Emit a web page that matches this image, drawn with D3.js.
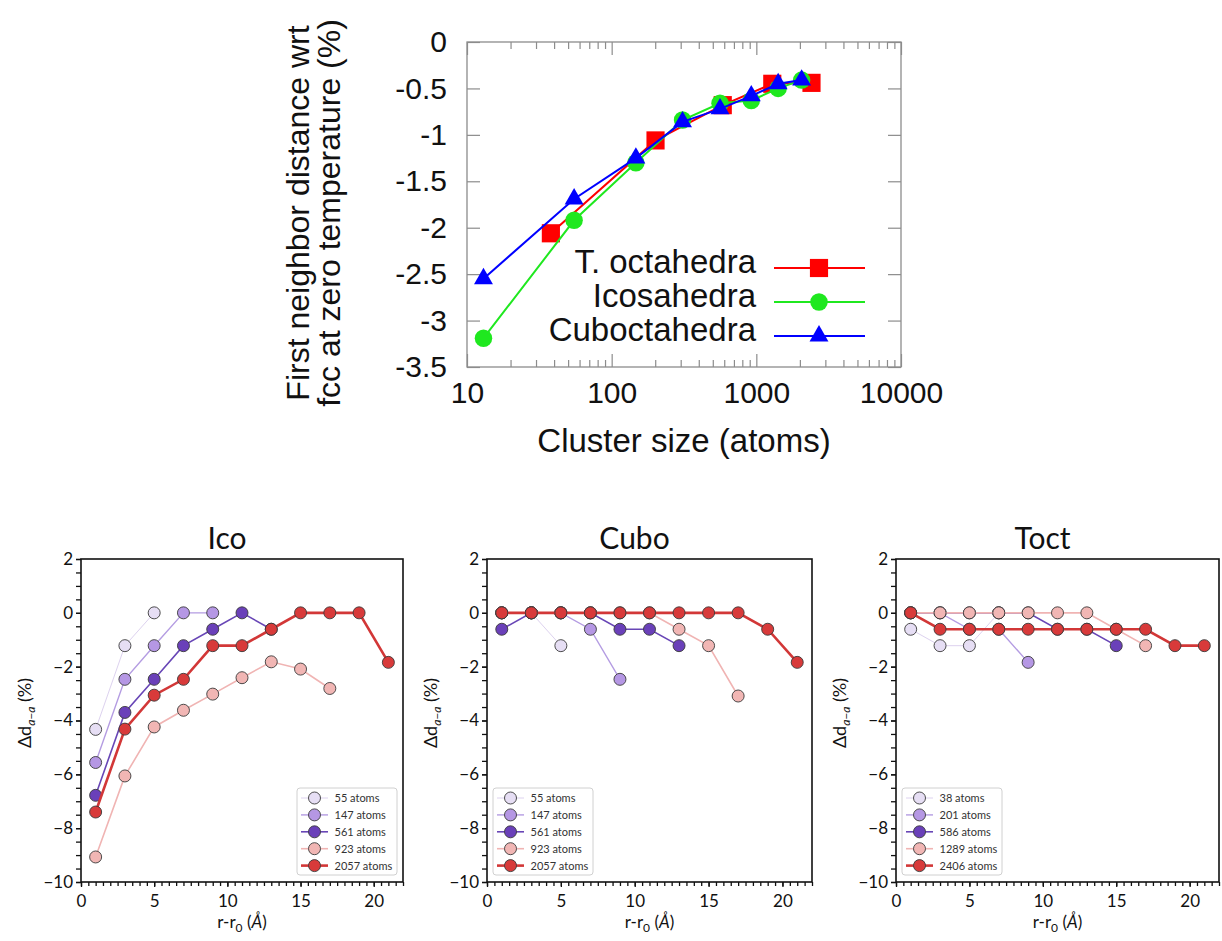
<!DOCTYPE html>
<html>
<head>
<meta charset="utf-8">
<script src="https://cdn.jsdelivr.net/npm/d3@7"></script>
<style>
  body { margin: 0; background: #fff; }
  svg { display: block; }
</style>
</head>
<body>
<svg id="fig" width="1222" height="941"></svg>
<script>
// ---------- top panel: first-neighbour distance vs cluster size ----------
const sizesToct = [38, 201, 586, 1289, 2406];
const distToct  = [-2.06, -1.06, -0.68, -0.45, -0.44];
const sizesIco  = [13, 55, 147, 309, 561, 923, 1415, 2057];
const distIco   = [-3.19, -1.92, -1.30, -0.84, -0.66, -0.63, -0.50, -0.41];
const sizesCubo = [13, 55, 147, 309, 561, 923, 1415, 2057];
const distCubo  = [-2.55, -1.69, -1.25, -0.86, -0.72, -0.58, -0.45, -0.41];
const topNames  = ["T. octahedra", "Icosahedra", "Cuboctahedra"];
const topXTicks = [10, 100, 1000, 10000];
const topYTicks = [0, -0.5, -1, -1.5, -2, -2.5, -3, -3.5];

// ---------- bottom panels: shell-resolved distance change ----------
const shellRadii = [1, 3, 5, 7, 9, 11, 13, 15, 17, 19, 21];
const bottomXTicks = [0, 5, 10, 15, 20];
const bottomYTicks = [-10, -8, -6, -4, -2, 0, 2];

const icoLabels = ["55 atoms", "147 atoms", "561 atoms", "923 atoms", "2057 atoms"];
const ico55   = [-4.33, -1.22, 0];
const ico147  = [-5.56, -2.47, -1.22, 0, 0];
const ico561  = [-6.78, -3.70, -2.47, -1.22, -0.61, 0, -0.61];
const ico923  = [-9.07, -6.06, -4.24, -3.62, -3.02, -2.41, -1.82, -2.09, -2.81];
const ico2057 = [-7.40, -4.32, -3.06, -2.47, -1.22, -1.22, -0.61, 0, 0, 0, -1.84];

const cuboLabels = ["55 atoms", "147 atoms", "561 atoms", "923 atoms", "2057 atoms"];
const cubo55   = [0, 0, -1.22];
const cubo147  = [0, 0, 0, -0.61, -2.47];
const cubo561  = [-0.61, 0, 0, 0, -0.61, -0.61, -1.22];
const cubo923  = [0, 0, 0, 0, 0, 0, -0.61, -1.22, -3.09];
const cubo2057 = [0, 0, 0, 0, 0, 0, 0, 0, 0, -0.61, -1.84];

const toctLabels = ["38 atoms", "201 atoms", "586 atoms", "1289 atoms", "2406 atoms"];
const toct38   = [-0.61, -1.22, -1.22, 0];
const toct201  = [0, 0, -0.61, -0.61, -1.84];
const toct586  = [0, 0, 0, 0, 0, -0.61, -0.61, -1.22];
const toct1289 = [0, 0, 0, 0, 0, 0, 0, -0.61, -1.22];
const toct2406 = [0, -0.61, -0.61, -0.61, -0.61, -0.61, -0.61, -0.61, -0.61, -1.22, -1.22];

// ======================================================================
const svg = d3.select("#fig");
svg.append("rect").attr("width", 1222).attr("height", 941).attr("fill", "#fff");

// ---------------------------- top chart -------------------------------
const TL = 467, TR = 901, TT = 42, TB = 367;
const gray = "#8c8c8c";
const topFont = "'Liberation Sans', Arial, sans-serif";
const xT = d3.scaleLog().domain([10, 10000]).range([TL, TR]);
const yT = d3.scaleLinear().domain([-3.5, 0]).range([TB, TT]);
const minorX = xT.ticks().filter(v => !topXTicks.includes(v));

function gnuAxis(g) {
  g.select(".domain").remove();
  g.selectAll("line").attr("stroke", gray).attr("stroke-width", 1.2);
  g.selectAll("text").attr("fill", "#111")
    .style("font-family", topFont).style("font-size", "30px");
}

const gT = svg.append("g");
gT.append("g").attr("transform", `translate(0,${TB})`)
  .call(d3.axisBottom(xT).tickValues(topXTicks).tickSize(-13).tickPadding(15).tickFormat(d3.format("d")))
  .call(gnuAxis);
gT.append("g").attr("transform", `translate(0,${TB})`)
  .call(d3.axisBottom(xT).tickValues(minorX).tickSize(-7).tickFormat(""))
  .call(gnuAxis);
gT.append("g").attr("transform", `translate(0,${TT})`)
  .call(d3.axisTop(xT).tickValues(topXTicks).tickSize(-13).tickFormat(""))
  .call(gnuAxis);
gT.append("g").attr("transform", `translate(0,${TT})`)
  .call(d3.axisTop(xT).tickValues(minorX).tickSize(-7).tickFormat(""))
  .call(gnuAxis);
gT.append("g").attr("transform", `translate(${TL},0)`)
  .call(d3.axisLeft(yT).tickValues(topYTicks).tickSize(-13).tickPadding(20).tickFormat(d => String(d)))
  .call(gnuAxis);
gT.append("g").attr("transform", `translate(${TR},0)`)
  .call(d3.axisRight(yT).tickValues(topYTicks).tickSize(-13).tickFormat(""))
  .call(gnuAxis);
gT.append("rect").attr("x", TL).attr("y", TT).attr("width", TR - TL).attr("height", TB - TT)
  .attr("fill", "none").attr("stroke", gray).attr("stroke-width", 1.3);

const topSeries = [
  { name: topNames[0], n: sizesToct, v: distToct, color: "#ff0000", sym: d3.symbolSquare,   size: 330 },
  { name: topNames[1], n: sizesIco,  v: distIco,  color: "#1fe81f", sym: d3.symbolCircle,   size: 240 },
  { name: topNames[2], n: sizesCubo, v: distCubo, color: "#0000ff", sym: d3.symbolTriangle, size: 155 }
];
const topLine = d3.line().x(d => xT(d[0])).y(d => yT(d[1]));
topSeries.forEach(s => {
  const pts = s.n.map((n, i) => [n, s.v[i]]);
  gT.append("path").attr("d", topLine(pts)).attr("fill", "none")
    .attr("stroke", s.color).attr("stroke-width", 2);
  gT.selectAll(null).data(pts).enter().append("path")
    .attr("d", d3.symbol().type(s.sym).size(s.size))
    .attr("transform", d => `translate(${xT(d[0])},${yT(d[1])})`)
    .attr("fill", s.color);
});

// legend
const legRows = [268, 302, 336];
topSeries.forEach((s, i) => {
  const y = legRows[i];
  gT.append("text").attr("x", 756).attr("y", y + 5).attr("text-anchor", "end")
    .style("font-family", topFont).style("font-size", "33px").attr("fill", "#111").text(s.name);
  gT.append("line").attr("x1", 774).attr("x2", 865).attr("y1", y).attr("y2", y)
    .attr("stroke", s.color).attr("stroke-width", 2);
  gT.append("path").attr("d", d3.symbol().type(s.sym).size(s.size)())
    .attr("transform", `translate(819,${y})`).attr("fill", s.color);
});

// axis titles
gT.append("text").attr("x", (TL + TR) / 2).attr("y", 452).attr("text-anchor", "middle")
  .style("font-family", topFont).style("font-size", "33px").attr("fill", "#111")
  .text("Cluster size (atoms)");
[["First neighbor distance wrt", 309], ["fcc at zero temperature (%)", 340]].forEach(([t, bx]) => {
  gT.append("text").attr("transform", `translate(${bx},213) rotate(-90)`)
    .attr("text-anchor", "middle")
    .style("font-family", topFont).style("font-size", "32px").attr("fill", "#111").text(t);
});

// --------------------------- bottom panels ----------------------------
const BT = 559, BB = 882;
const botFont = "Lato, 'DejaVu Sans', sans-serif";
const yB = d3.scaleLinear().domain([-10, 2]).range([BB, BT]);
const palette = [
  { fill: "#e6def4", stroke: "#ddd2ef", lw: 1.0 },
  { fill: "#b597e4", stroke: "#b49ce2", lw: 1.4 },
  { fill: "#6a40b9", stroke: "#6846b6", lw: 1.6 },
  { fill: "#f1b6b4", stroke: "#f0b4b3", lw: 1.6 },
  { fill: "#d83a3a", stroke: "#d23737", lw: 2.6 }
];

const panels = [
  { title: "Ico",  x0: 81,  x1: 403, labels: icoLabels,  series: [ico55, ico147, ico561, ico923, ico2057],        legendRight: true },
  { title: "Cubo", x0: 487, x1: 812, labels: cuboLabels, series: [cubo55, cubo147, cubo561, cubo923, cubo2057],   legendRight: false },
  { title: "Toct", x0: 896, x1: 1219, labels: toctLabels, series: [toct38, toct201, toct586, toct1289, toct2406], legendRight: false }
];

function mplAxis(g) {
  g.select(".domain").remove();
  g.selectAll("line").attr("stroke", "#111").attr("stroke-width", 1.3);
  g.selectAll("text").attr("fill", "#111")
    .style("font-family", botFont).style("font-size", "17px");
}

panels.forEach(p => {
  const x = d3.scaleLinear().domain([0, 22]).range([p.x0, p.x1]);
  const g = svg.append("g");
  const minorXB = d3.range(0, 22.001, 0.5);
  const minorYB = d3.range(-10, 2.001, 0.5);

  g.append("g").attr("transform", `translate(0,${BB})`)
    .call(d3.axisBottom(x).tickValues(minorXB).tickSize(4).tickFormat(""))
    .call(mplAxis);
  g.append("g").attr("transform", `translate(0,${BB})`)
    .call(d3.axisBottom(x).tickValues(bottomXTicks).tickSize(5).tickPadding(8).tickFormat(d3.format("d")))
    .call(mplAxis);
  g.append("g").attr("transform", `translate(${p.x0},0)`)
    .call(d3.axisLeft(yB).tickValues(minorYB).tickSize(5).tickFormat(""))
    .call(mplAxis);
  g.append("g").attr("transform", `translate(${p.x0},0)`)
    .call(d3.axisLeft(yB).tickValues(bottomYTicks).tickSize(5).tickPadding(3).tickFormat(d3.format("d")))
    .call(mplAxis);

  g.append("rect").attr("x", p.x0).attr("y", BT).attr("width", p.x1 - p.x0).attr("height", BB - BT)
    .attr("fill", "none").attr("stroke", "#111").attr("stroke-width", 1.6);

  // title
  g.append("text").attr("x", (p.x0 + p.x1) / 2 - 15).attr("y", 549).attr("text-anchor", "middle")
    .style("font-family", botFont).style("font-size", "30px").attr("fill", "#111").text(p.title);

  // x label: r-r0 (Å)
  const xl = g.append("text").attr("x", (p.x0 + p.x1) / 2).attr("y", 928).attr("text-anchor", "middle")
    .style("font-family", botFont).style("font-size", "17px").attr("fill", "#111");
  xl.append("tspan").text("r-r");
  xl.append("tspan").attr("dy", 4).style("font-size", "12px").text("0");
  xl.append("tspan").attr("dy", -4).text(" (");
  xl.append("tspan").style("font-style", "italic").text("Å");
  xl.append("tspan").text(")");

  // y label: Δd_{a−a} (%)
  const yl = g.append("text").attr("transform", `translate(${p.x0 - 50},713) rotate(-90)`)
    .attr("text-anchor", "middle")
    .style("font-family", botFont).style("font-size", "18px").attr("fill", "#111");
  yl.append("tspan").text("Δd");
  yl.append("tspan").attr("dy", 4).style("font-size", "12px").style("font-style", "italic").text("a−a");
  yl.append("tspan").attr("dy", -4).text(" (%)");

  // series
  const ln = d3.line().x(d => x(d[0])).y(d => yB(d[1]));
  p.series.forEach((vals, k) => {
    const pts = vals.map((v, i) => [shellRadii[i], v]);
    const c = palette[k];
    g.append("path").attr("d", ln(pts)).attr("fill", "none")
      .attr("stroke", c.stroke).attr("stroke-width", c.lw);
    g.selectAll(null).data(pts).enter().append("circle")
      .attr("cx", d => x(d[0])).attr("cy", d => yB(d[1])).attr("r", 6)
      .attr("fill", c.fill).attr("stroke", "#3a3a3a").attr("stroke-width", 0.9);
  });

  // legend
  const bw = 100, bx = p.legendRight ? p.x1 - 6 - bw : p.x0 + 6, by = 788;
  const lg = g.append("g");
  lg.append("rect").attr("x", bx).attr("y", by).attr("width", bw).attr("height", 87)
    .attr("rx", 3).attr("fill", "#fff").attr("fill-opacity", 0.85)
    .attr("stroke", "#d0d0d0").attr("stroke-width", 1);
  p.labels.forEach((lab, k) => {
    const y = by + 10 + k * 16.9;
    const c = palette[k];
    lg.append("line").attr("x1", bx + 4).attr("x2", bx + 31).attr("y1", y).attr("y2", y)
      .attr("stroke", c.stroke).attr("stroke-width", c.lw);
    lg.append("circle").attr("cx", bx + 17.5).attr("cy", y).attr("r", 6)
      .attr("fill", c.fill).attr("stroke", "#3a3a3a").attr("stroke-width", 0.9);
    lg.append("text").attr("x", bx + 37.5).attr("y", y + 4)
      .style("font-family", botFont).style("font-size", "11px").attr("fill", "#333").text(lab);
  });
});
</script>
</body>
</html>
